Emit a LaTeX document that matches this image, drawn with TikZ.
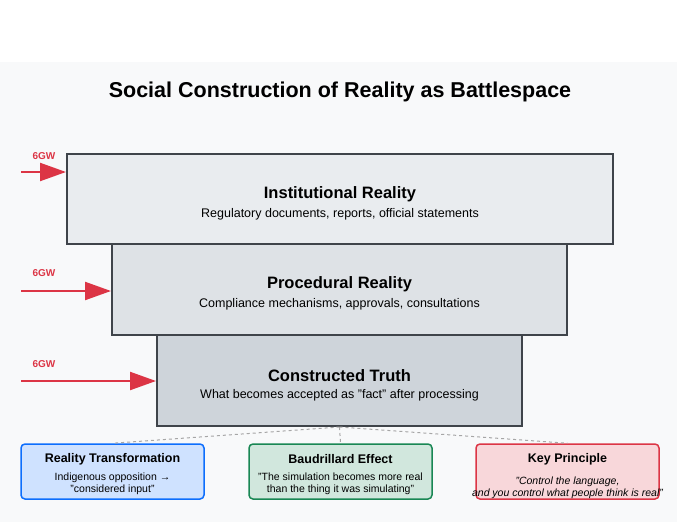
\documentclass[tikz,border=0pt]{standalone}
\usepackage{fontspec}
\setmainfont{Liberation Sans}
\usetikzlibrary{arrows.meta}
\definecolor{bg}{HTML}{F8F9FA}
\definecolor{edge}{HTML}{3F444A}
\definecolor{redc}{HTML}{DC3545}
\tikzset{
 layer/.style={draw=edge,line width=2pt,inner sep=0pt},
 gw/.style={redc,line width=2.2pt,-{Triangle[length=26pt,width=18pt]}},
 gwlabel/.style={text=redc,font=\fontsize{10}{12}\selectfont\bfseries},
 card/.style={rounded corners=4pt,line width=1.5pt,minimum width=183pt,minimum height=55pt,inner sep=0pt},
 conn/.style={gray!70,dashed,line width=1pt},
}
\begin{document}
\begin{tikzpicture}[x=1pt,y=-1pt]
\useasboundingbox (0,0) rectangle (677,522);
\fill[white] (0,0) rectangle (677,62);
\fill[bg] (0,62) rectangle (677,522);
\node[font=\fontsize{21.5}{25}\selectfont\bfseries] (title) at (340,92) {Social Construction of Reality as Battlespace};
\node[layer,fill={rgb,255:red,233;green,236;blue,239},minimum width=546pt,minimum height=90pt] (b1) at (340,199) {};
\node[layer,fill={rgb,255:red,222;green,226;blue,230},minimum width=455pt,minimum height=91pt] (b2) at (339.5,289.5) {};
\node[layer,fill={rgb,255:red,206;green,212;blue,218},minimum width=365pt,minimum height=91pt] (b3) at (339.5,380.5) {};
\foreach \b/\t/\s in {b1/Institutional Reality/{Regulatory documents, reports, official statements},b2/Procedural Reality/{Compliance mechanisms, approvals, consultations},b3/Constructed Truth/{What becomes accepted as "fact" after processing}}{
 \node[font=\fontsize{16.5}{19}\selectfont\bfseries] (\b t) at ([yshift=5pt]\b.center) {\t};
 \node[font=\fontsize{12.5}{14}\selectfont] (\b s) at ([yshift=-15pt]\b.center) {\s};
}
\coordinate (s1) at (21,172); \coordinate (s2) at (21,291); \coordinate (s3) at (21,381);
\draw[gw] (s1) -- (s1 -| b1.west);
\draw[gw] (s2) -- (s2 -| b2.west);
\draw[gw] (s3) -- (s3 -| b3.west);
\node[gwlabel] (l1) at (44,156) {6GW};
\node[gwlabel] (l2) at (44,273) {6GW};
\node[gwlabel] (l3) at (44,364) {6GW};
\node[card,draw={rgb,255:red,13;green,110;blue,253},fill={rgb,255:red,207;green,226;blue,255}] (c1) at (112.5,471.5) {};
\node[card,draw={rgb,255:red,25;green,135;blue,84},fill={rgb,255:red,209;green,231;blue,221}] (c2) at (340.5,471.5) {};
\node[card,draw=redc,fill={rgb,255:red,248;green,215;blue,218}] (c3) at (567.5,471.5) {};
\draw[conn] (b3.south) -- (c1.north);
\draw[conn] (b3.south) -- (c2.north);
\draw[conn] (b3.south) -- (c3.north);
\tikzset{ct/.style={font=\fontsize{12.5}{15}\selectfont\bfseries},cx/.style={font=\fontsize{10.5}{12.5}\selectfont,align=center}}
\node[ct] (c1t) at (112.5,459) {Reality Transformation};
\node[cx] (c1x) at (112.5,484) {Indigenous opposition →\\"considered input"};
\node[ct] (c2t) at (340.5,459) {Baudrillard Effect};
\node[cx] (c2x) at (340.5,484) {"The simulation becomes more real\\than the thing it was simulating"};
\node[ct] (c3t) at (567.5,459) {Key Principle};
\node[cx,font=\fontsize{10.5}{12.5}\selectfont\itshape] (c3x) at (567.5,488) {"Control the language,\\and you control what people think is real"};
\end{tikzpicture}
\end{document}
